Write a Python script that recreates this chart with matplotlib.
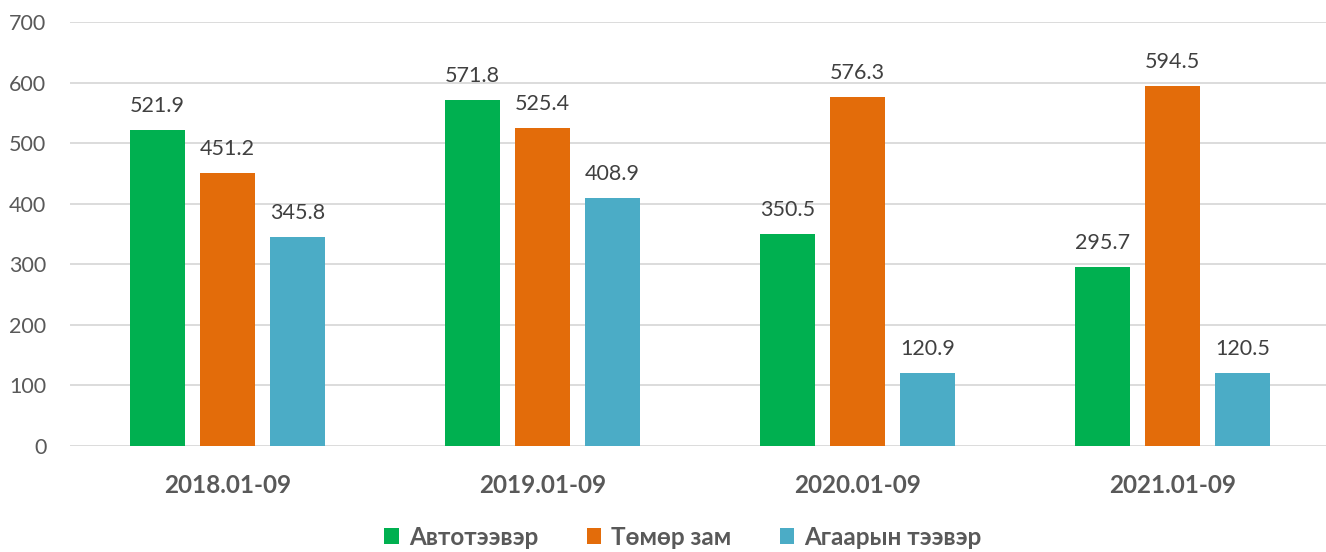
import numpy as np
import matplotlib
matplotlib.use("Agg")
import matplotlib.pyplot as plt

categories = ["2018.01-09", "2019.01-09", "2020.01-09", "2021.01-09"]
series_names = ["Автотээвэр", "Төмөр зам", "Агаарын тээвэр"]
auto = [521.9, 571.8, 350.5, 295.7]
rail = [451.2, 525.4, 576.3, 594.5]
air = [345.8, 408.9, 120.9, 120.5]
y_ticks = [0, 100, 200, 300, 400, 500, 600, 700]

colors = ["#00B050", "#E36C0A", "#4BACC6"]
plt.rcParams["font.family"] = ["Lato", "Open Sans", "DejaVu Sans"]

fig = plt.figure(figsize=(13.26, 5.52), dpi=100)
ax = fig.add_axes([70 / 1326, 106 / 552, 1260 / 1326, 424 / 552])

x = np.arange(len(categories))
width = 55 / 315
stride = 70 / 315
for i, (vals, name) in enumerate(zip([auto, rail, air], series_names)):
    pos = x + (i - 1) * stride
    bars = ax.bar(pos, vals, width=width, color=colors[i], label=name, zorder=3)
    for b, v in zip(bars, vals):
        ax.annotate(f"{v:.1f}", (b.get_x() + b.get_width() / 2, v),
                    xytext=(0, 10), textcoords="offset points",
                    ha="center", va="bottom", fontsize=15.5, color="#404040")

ax.set_xlim(-0.5, len(categories) - 0.5)
ax.set_ylim(0, 700)
ax.set_yticks(y_ticks)
ax.yaxis.grid(True, color="#D9D9D9", linewidth=1.3, zorder=0)
ax.set_xticks(x)
ax.set_xticklabels(categories, fontsize=17.5, fontweight="bold", color="#595959")
ax.tick_params(axis="y", labelsize=15.5, colors="#595959", length=0, pad=17)
ax.tick_params(axis="x", length=0, pad=20)
for s in ax.spines.values():
    s.set_visible(False)

leg = fig.legend(loc="center", bbox_to_anchor=(0.515, 0.027), ncol=3, frameon=False,
                 handlelength=0.6, handleheight=0.6, handletextpad=0.4,
                 columnspacing=2.0, prop={"size": 17.5, "weight": "bold"})
for t in leg.get_texts():
    t.set_color("#595959")

fig.savefig("out.png", dpi=100)
